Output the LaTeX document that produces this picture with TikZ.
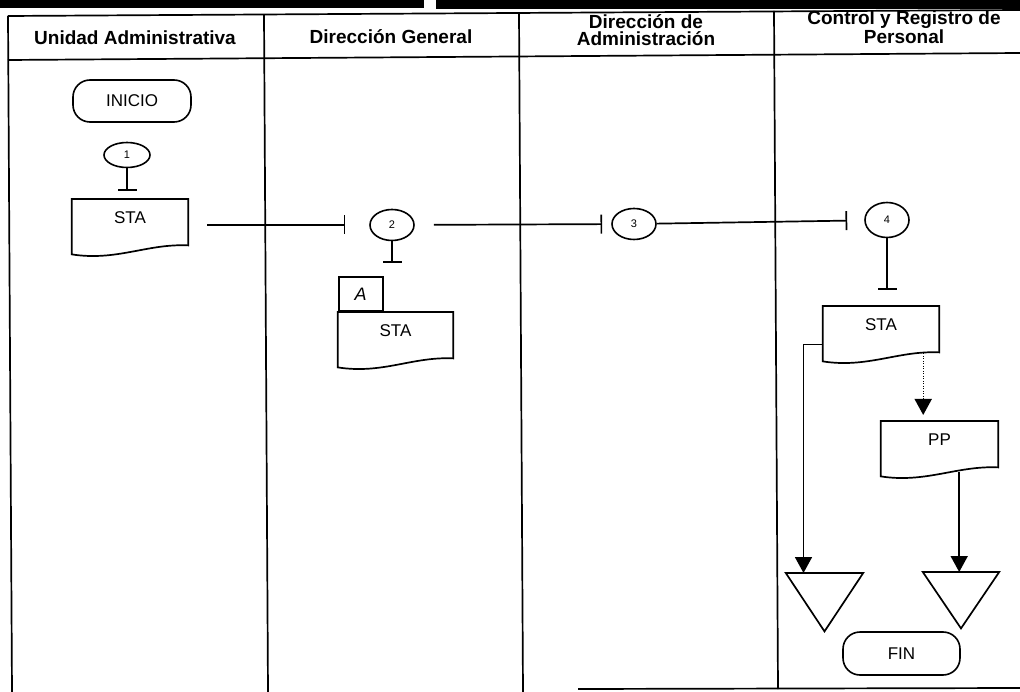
\documentclass[tikz,border=0pt]{standalone}
\usepackage{fontspec}
\setmainfont{Liberation Sans}
\usetikzlibrary{shapes.geometric,arrows.meta,calc}

% document symbol: flat top, wavy bottom
\newcommand\docoutline[1]{%
  \draw[link] (#1.north west) -- (#1.north east) -- (#1.south east)
    .. controls ($(#1.south east)+(-41,-2)$) and ($(#1.south west)+(45,16)$)
    .. ($(#1.south west)+(0,9)$) -- cycle;}
% archive symbol: downward triangle
\newcommand\storeoutline[1]{%
  \draw[link] (#1.north west) -- (#1.north east) -- (#1.south) -- cycle;}

\begin{document}
\begin{tikzpicture}[x=1pt,y=-1pt,
  frame/.style={line width=1.7pt},
  lane/.style={font=\fontsize{19}{17}\selectfont\bfseries, align=center},
  term/.style={draw, line width=1.6pt, rounded corners=17pt, minimum width=118pt,
    minimum height=42pt, inner sep=0pt, font=\fontsize{17}{17}\selectfont},
  conn/.style={draw, ellipse, line width=1.6pt, minimum width=44pt, minimum height=31pt,
    inner sep=0pt, font=\fontsize{11}{11}\selectfont},
  doc/.style={minimum width=116pt, inner sep=0pt, text height=24pt, text depth=22pt,
    font=\fontsize{17}{17}\selectfont},
  store/.style={minimum width=77pt, minimum height=58pt, inner sep=0pt},
  link/.style={line width=1.7pt},
  tbar/.style={link, -{Bar[width=19pt, line width=1.7pt]}},
  arr/.style={link, -{Triangle[length=16pt, width=17pt]}},
  dots/.style={line width=1.2pt, dash pattern=on 1pt off 1.5pt},
]
\useasboundingbox (0,0) rectangle (1020,692);

% heavy rules along the top edge
\fill (0,0) rectangle (424,8);
\fill (436,0) rectangle (1020,9);

% swimlane table
\draw[frame] (8,16) -- (1020,10);
\draw[frame] (8,60) -- (1020,53);
\draw[frame] (8,16) -- (12,692);
\draw[frame] (264,15) -- (268,692);
\draw[frame] (519,13) -- (523,692);
\draw[frame] (774,11) -- (778,689);
\draw[frame] (578,689) -- (1020,688);

\node[lane] (h1) at (135,38) {Unidad Administrativa};
\node[lane] (h2) at (391,37) {Dirección General};
\node[lane] (h3) at (646,30) {Dirección de\\Administración};
\node[lane] (h4) at (904,27.5) {Control y Registro de\\Personal};

% Unidad Administrativa
\node[term] (ini) at (132,101) {INICIO};
\node[conn, minimum width=46pt, minimum height=25pt] (c1) at (127,155) {1};
\node[doc, anchor=north] (d1) at (130,199) {STA};
\docoutline{d1}

% Dirección General
\node[conn] (c2) at (392,225) {2};
\node[doc, anchor=north, minimum width=115pt] (d2) at (395.5,312) {STA};
\docoutline{d2}
\node[draw, link, minimum width=44pt, minimum height=34pt, inner sep=0pt,
  anchor=south west, font=\fontsize{18}{18}\selectfont\itshape] (tab) at (d2.north west) {A};

% Dirección de Administración
\node[conn] (c3) at (634,224) {3};

% Control y Registro de Personal
\node[conn, minimum height=35pt] (c4) at (887,220) {4};
\node[doc, anchor=north] (d4) at (881,306) {STA};
\docoutline{d4}
\node[doc, anchor=north, minimum width=117pt] (pp) at (939.5,421) {PP};
\docoutline{pp}
\node[store, anchor=north] (t1) at (824.5,573) {};
\storeoutline{t1}
\node[store, anchor=north, minimum width=76pt, minimum height=56pt] (t2) at (961,572) {};
\storeoutline{t2}
\node[term, minimum width=117pt, minimum height=43pt] (fin) at (901.5,653.5) {FIN};

% connectors
\draw[tbar, shorten >=8pt] (c1) -- (c1 |- d1.north);
\draw[tbar, shorten <=19pt, shorten >=24pt] (d1.east |- c2) -- (c2);
\draw[tbar, shorten >=49pt] (c2) -- (c2 |- d2.north);
\draw[tbar, shorten <=19pt, shorten >=9pt] (c2) -- (c3);
\draw[tbar, shorten >=17pt] (c3) -- (c4);
\draw[tbar, shorten >=16pt] (c4) -- (c4 |- d4.north);

\draw[arr] ($(d4.south west)+(0,-8)$) -| ($(t1.north)+(-21,0)$);
\coordinate (d4out) at ($(d4.south east)+(-16,1)$);
\draw[dots] (d4out) -- ($(d4out |- pp.north)+(0,-20)$);
\draw[arr, shorten >=6pt] ($(d4out |- pp.north)+(0,-20)$) -- (d4out |- pp.north);
\coordinate (ppout) at ($(pp.south east)+(-39,5)$);
\draw[arr] (ppout) -- (ppout |- t2.north);
\end{tikzpicture}
\end{document}
